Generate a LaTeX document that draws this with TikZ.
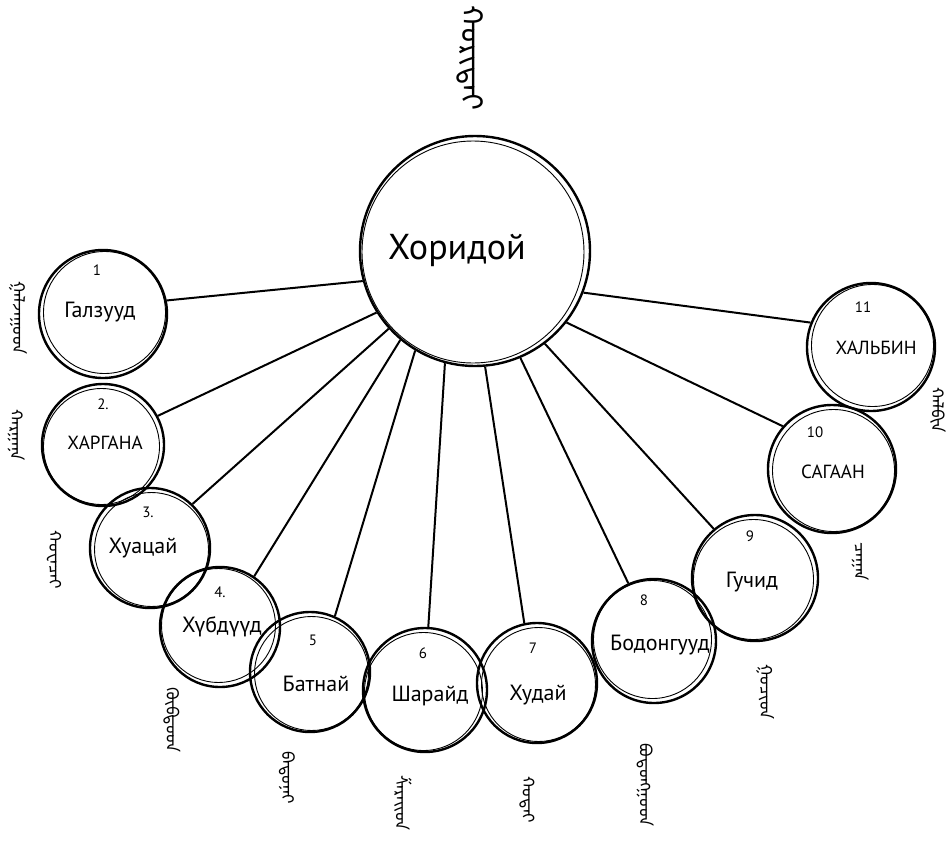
\documentclass[tikz,border=0pt]{standalone}
\usepackage{fontspec}
\setmainfont{PT Sans}
\IfFontExistsTF{Noto Sans Mongolian}
  {\newfontfamily\mongfont[Script=Mongolian]{Noto Sans Mongolian}}
  {\newfontfamily\mongfont{DejaVu Sans}}
\usetikzlibrary{calc}
\begin{document}
\begin{tikzpicture}[x=1pt,y=-1pt,
  bub/.style={circle,draw,line width=2.4pt,inner sep=0pt},
  ring/.style={line width=0.9pt},
  nm/.style={font=\fontsize{22}{24}\selectfont,inner sep=1pt},
  capnm/.style={font=\fontsize{19}{22}\selectfont,inner sep=1pt},
  num/.style={font=\fontsize{15}{17}\selectfont,inner sep=1pt},
  mg/.style={font=\mongfont\fontsize{17}{19}\selectfont,rotate=-90,inner sep=0pt},
  link/.style={line width=2pt}]
\fill[white] (0,0) rectangle (951,841);
\useasboundingbox (0,0) rectangle (951,841);

% circles
\node[bub,minimum size=230pt] (c) at (475,251) {};
\node[bub,minimum size=128pt] (n1) at (103,314) {};
\node[bub,minimum size=122pt] (n2) at (103,445) {};
\node[bub,minimum size=120pt] (n3) at (150,548) {};
\node[bub,minimum size=120pt] (n4) at (220,627) {};
\node[bub,minimum size=120pt] (n5) at (310,672) {};
\node[bub,minimum size=124pt] (n6) at (425,690) {};
\node[bub,minimum size=120pt] (n7) at (537,683) {};
\node[bub,minimum size=124pt] (n8) at (654,641) {};
\node[bub,minimum size=126pt] (n9) at (755,578) {};
\node[bub,minimum size=128pt] (n10) at (832,469) {};
\node[bub,minimum size=128pt] (n11) at (871,347) {};

% second hand-drawn rings
\foreach \n/\r/\dx/\dy in {c/111/-2/1, n1/61/1.5/-1.5, n2/58/-1.5/1.5, n3/57/1.5/1.5,
  n4/57/-1.5/-1.5, n5/57/1.5/1.5, n6/59/-1.5/1.5, n7/57/1.5/1.5, n8/59/-1.5/-1.5,
  n9/60/-1.5/1.5, n10/61/1.5/1.5, n11/61/1.5/-1.5}
  \draw[ring] ($(\n.center)+(\dx,\dy)$) circle [radius=\r pt];

% connectors
\draw[link] (c.195) -- (n1.12);
\draw[link] (c.212) -- (n2.28);
\draw[link] (c.222) -- (n3.46);
\draw[link] (c.230) -- (n4.56);
\draw[link] (c.239) -- (n5.66);
\draw[link] (c.255) -- (n6.87);
\draw[link] (c.275) -- (n7.102);
\draw[link] (c.293) -- (n8.114);
\draw[link] (c.307) -- (n9.130);
\draw[link] (c.322) -- (n10.139);
\draw[link] (c.339) -- (n11.158);

% names
\node[font=\fontsize{36}{40}\selectfont] (t0) at (457,250) {Хоридой};
\node[nm] (t1) at (100,312) {Галзууд};
\node[capnm] (t2) at (105,443) {ХАРГАНА};
\node[nm] (t3) at (143,548) {Хуацай};
\node[nm] (t4) at (222,627) {Хүбдүүд};
\node[nm] (t5) at (316,684) {Батнай};
\node[nm] (t6) at (430,696) {Шарайд};
\node[nm] (t7) at (538,695) {Худай};
\node[nm] (t8) at (660,645) {Бодонгууд};
\node[nm] (t9) at (752,582) {Гучид};
\node[capnm] (t10) at (833,472) {САГААН};
\node[capnm] (t11) at (876,348) {ХАЛЬБИН};

% numbers
\node[num] (k1) at (97,270) {1};
\node[num] (k2) at (103,404) {2.};
\node[num] (k3) at (148,512) {3.};
\node[num] (k4) at (220,592) {4.};
\node[num] (k5) at (313,640) {5};
\node[num] (k6) at (423,653) {6};
\node[num] (k7) at (533,648) {7};
\node[num] (k8) at (644,600) {8};
\node[num] (k9) at (750,536) {9};
\node[num] (k10) at (815,432) {10};
\node[num] (k11) at (863,307) {11};

% Mongolian script labels
\node[mg,font=\mongfont\fontsize{30}{32}\selectfont] (m0) at (470,58) {ᠬᠣᠷᠢᠳᠠᠢ};
\node[mg] (m1) at (18,318) {ᠭᠠᠯᠵᠠᠭᠤᠳ};
\node[mg] (m2) at (16,435) {ᠬᠠᠷᠭᠠᠨᠠ};
\node[mg] (m3) at (54,560) {ᠬᠤᠸᠠᠴᠠᠢ};
\node[mg] (m4) at (172,720) {ᠬᠦᠪᠳᠦᠳ};
\node[mg] (m5) at (287,778) {ᠪᠠᠲᠤᠨᠠᠢ};
\node[mg] (m6) at (403,803) {ᠱᠠᠷᠠᠢᠳ};
\node[mg] (m7) at (527,800) {ᠬᠤᠳᠠᠢ};
\node[mg] (m8) at (645,785) {ᠪᠣᠳᠣᠩᠭᠤᠳ};
\node[mg] (m9) at (765,692) {ᠭᠤᠴᠢᠳ};
\node[mg] (m10) at (860,562) {ᠴᠠᠭᠠᠨ};
\node[mg] (m11) at (938,410) {ᠬᠠᠯᠪᠢᠨ};
\end{tikzpicture}
\end{document}
